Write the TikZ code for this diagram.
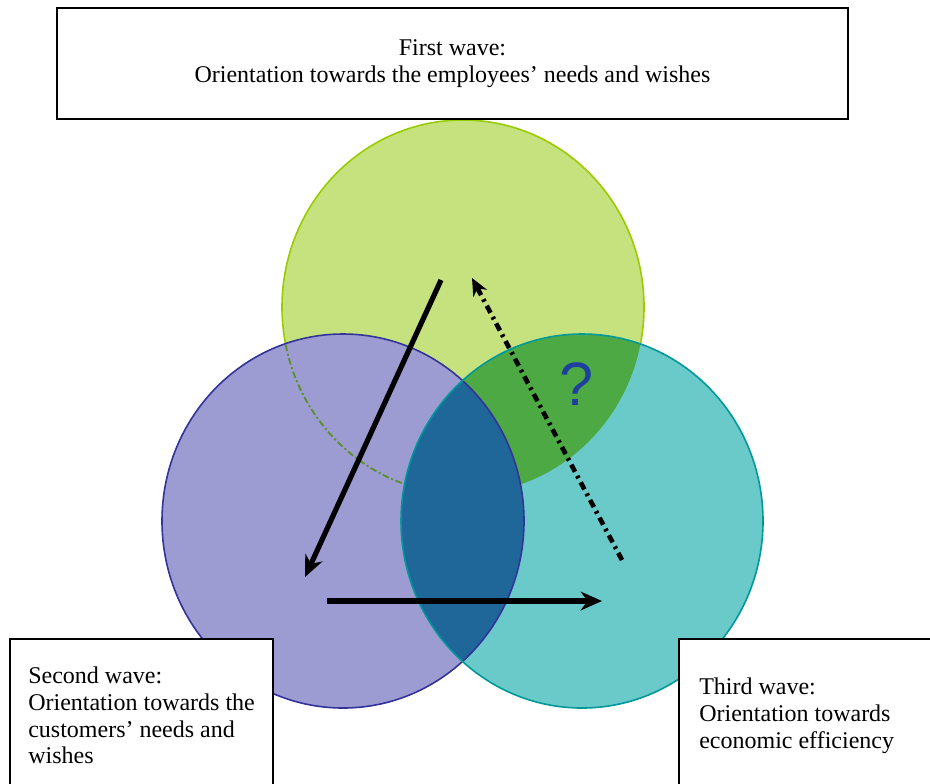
\documentclass[tikz,border=0pt]{standalone}
\usepackage{fontspec}
\setmainfont{Liberation Serif}
\newfontfamily\qmarkfont{Liberation Sans}
\usetikzlibrary{arrows.meta}

\definecolor{greenfill}{HTML}{C6E27E}
\definecolor{greenedge}{HTML}{99CC00}
\definecolor{greendash}{HTML}{5E8F2E}
\definecolor{purplefill}{HTML}{9C9CD2}
\definecolor{purpleedge}{HTML}{333399}
\definecolor{tealfill}{HTML}{6ACACA}
\definecolor{tealedge}{HTML}{009999}
\definecolor{darkgreen}{HTML}{4CA944}
\definecolor{lensblue}{HTML}{1F6699}
\definecolor{qblue}{HTML}{1F3F9F}

\tikzset{
  boxline/.style={draw=black, line width=1.3pt},
  wavetext/.style={font=\fontsize{18}{20}\selectfont, align=left, inner sep=0pt, anchor=north west},
  wavearrow/.style={line width=3.9pt, -{Stealth[length=16pt,width=14pt]}},
  backarrow/.style={line width=3.5pt, dash pattern=on 6pt off 3.5pt on 2pt off 3.5pt,
    -{Stealth[length=13pt,width=11.5pt]}}
}

\begin{document}
\begin{tikzpicture}[x=0.75pt,y=-0.75pt]
\def\rx{135.75pt}
\def\ry{140.25pt}

\useasboundingbox (0,0) rectangle (930,783);

\coordinate (G) at (463,307);
\coordinate (P) at (343,521);
\coordinate (T) at (582,521);

% circles
\draw[fill=greenfill, draw=greenedge, line width=1.2pt] (G) ellipse [x radius=\rx, y radius=\ry];
\fill[purplefill] (P) ellipse [x radius=\rx, y radius=\ry];
\begin{scope}
  \clip (P) ellipse [x radius=\rx, y radius=\ry];
  \draw[greendash, line width=1.4pt, dash pattern=on 5pt off 2pt on 1.5pt off 2pt]
    (G) ellipse [x radius=\rx, y radius=\ry];
\end{scope}
\fill[tealfill] (T) ellipse [x radius=\rx, y radius=\ry];
\begin{scope}
  \clip (T) ellipse [x radius=\rx, y radius=\ry];
  \fill[darkgreen] (G) ellipse [x radius=\rx, y radius=\ry];
  \fill[lensblue] (P) ellipse [x radius=\rx, y radius=\ry];
\end{scope}
\draw[purpleedge, line width=1.2pt] (P) ellipse [x radius=\rx, y radius=\ry];
\draw[tealedge, line width=1.2pt] (T) ellipse [x radius=\rx, y radius=\ry];

% arrows
\coordinate (FS) at (441,280);
\coordinate (SF) at (305,577);
\coordinate (ST) at (327,601);
\coordinate (TS) at (602,601);
\coordinate (TF) at (622,560);
\coordinate (FT) at (472,278);

\draw[wavearrow] (FS) -- (SF);
\draw[wavearrow] (ST) -- (TS);
\draw[backarrow] (TF) -- (FT);

\node[text=qblue, font=\qmarkfont\fontsize{46}{50}\selectfont, inner sep=0pt] (qm) at (577,384) {?};

% boxes
\node[boxline, fill=white, minimum width=593.25pt, minimum height=83.25pt, align=center,
  font=\fontsize{18}{20}\selectfont] (first) at (452.5,63.5)
  {First wave:\\Orientation towards the employees' needs and wishes};

\draw[boxline, fill=white] (10,639) rectangle (273,800);
\node[wavetext] (second) at (28,667)
  {Second wave:\\Orientation towards the\\customers' needs and\\wishes};

\draw[boxline, fill=white] (679,639) rectangle (950,800);
\node[wavetext] (third) at (699,678)
  {Third wave:\\Orientation towards\\economic efficiency};
\end{tikzpicture}
\end{document}
